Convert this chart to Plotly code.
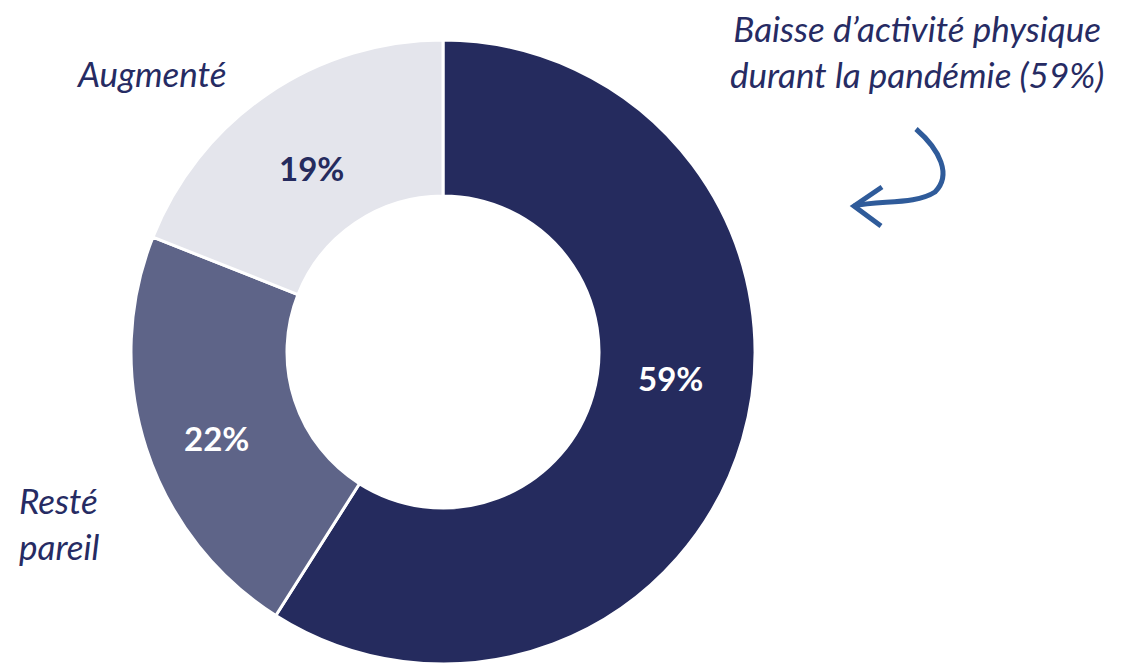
import plotly.graph_objects as go

# Share of respondents by change in physical activity during the pandemic
categories = ["Baisse", "Resté pareil", "Augmenté"]
values = [59, 22, 19]
slice_colors = ["#252B5E", "#5E6488", "#E4E5EC"]
pct_text_colors = ["#FFFFFF", "#FFFFFF", "#252B5E"]
# label anchor positions (pixels from top-left) for the percentage texts
pct_positions = [(670, 378), (216, 438), (311, 168)]

W, H = 1127, 664
NAVY = "#262B63"
FONT = "Lato"

fig = go.Figure()

cx, r = 443, 312
top = 40
fig.add_trace(go.Pie(
    labels=categories,
    values=values,
    sort=False,
    direction="clockwise",
    rotation=0,
    hole=0.5,
    marker=dict(colors=slice_colors, line=dict(color="white", width=3)),
    textinfo="none",
    hoverinfo="label+percent",
    showlegend=False,
    domain=dict(x=[(cx - r) / W, (cx + r) / W], y=[(H - top - 2 * r) / H, (H - top) / H]),
))


def note(px, py, text, size, color, xanchor="center", align="center"):
    fig.add_annotation(x=px / W, y=1 - py / H, xref="paper", yref="paper",
                       xanchor=xanchor, yanchor="middle", align=align,
                       text=text, showarrow=False,
                       font=dict(family=FONT, size=size, color=color))


# percentage labels
for v, (px, py), c in zip(values, pct_positions, pct_text_colors):
    note(px, py, f"<b>{v}%</b>", 33, c)

# category labels
note(151, 73, "<i>Augmenté</i>", 35, NAVY)
note(17, 523, "<i>Resté<br>pareil</i>", 35, NAVY, xanchor="left", align="left")
note(917, 51, f"<i>Baisse d’activité physique<br>durant la pandémie ({values[0]}%)</i>", 35, NAVY)

# hand-drawn style curved arrow pointing at the large slice
arrow_color = "#2F5B9A"
fig.add_shape(type="path", xref="x", yref="y",
              path="M 916 129 C 940 150, 952 175, 935 192 C 915 205, 880 200, 854 206",
              line=dict(color=arrow_color, width=5))
fig.add_shape(type="path", xref="x", yref="y",
              path="M 882 187 L 854 206 L 881 226",
              line=dict(color=arrow_color, width=5))

fig.update_layout(
    width=W, height=H,
    margin=dict(l=0, r=0, t=0, b=0),
    paper_bgcolor="white", plot_bgcolor="rgba(0,0,0,0)",
    xaxis=dict(range=[0, W], visible=False, domain=[0, 1], fixedrange=True),
    yaxis=dict(range=[H, 0], visible=False, domain=[0, 1], fixedrange=True),
)

fig.write_html("out.html")
